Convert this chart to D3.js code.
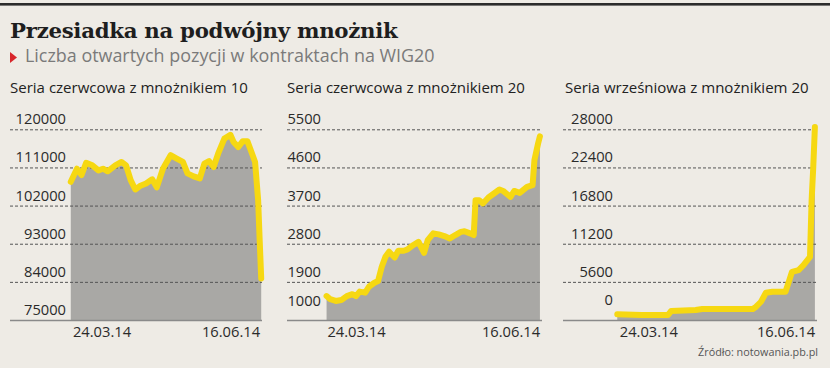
<!DOCTYPE html>
<html><head><meta charset="utf-8">
<script src="https://cdn.jsdelivr.net/npm/d3@7"></script>
<style>html,body{margin:0;padding:0;background:#eeebe5;}</style>
</head><body>
<svg id="c" width="830" height="368"></svg>
<script>
// ---------- DATA ----------
const title = "Przesiadka na podwójny mnożnik";
const subtitle = "Liczba otwartych pozycji w kontraktach na WIG20";
const panelTitles = ["Seria czerwcowa z mnożnikiem 10", "Seria czerwcowa z mnożnikiem 20", "Seria wrześniowa z mnożnikiem 20"];
const source = "Źródło: notowania.pb.pl";

const xTickDates = ["2014-03-24", "2014-06-16"];
const xTickLabels = ["24.03.14", "16.06.14"];

const yTicks1 = [75000, 84000, 93000, 102000, 111000, 120000];
const yTicks2 = [1000, 1900, 2800, 3700, 4600, 5500];
const yTicks3 = [0, 5600, 11200, 16800, 22400, 28000];

const dates1 = ["2014-03-04","2014-03-08","2014-03-11","2014-03-14","2014-03-18","2014-03-22","2014-03-25","2014-03-28",
  "2014-04-02","2014-04-06","2014-04-09","2014-04-12","2014-04-15","2014-04-18","2014-04-22","2014-04-26","2014-04-29",
  "2014-05-03","2014-05-08","2014-05-12","2014-05-16","2014-05-19","2014-05-23","2014-05-27","2014-05-30",
  "2014-06-02","2014-06-05","2014-06-08","2014-06-12","2014-06-16","2014-06-18","2014-06-21","2014-06-24","2014-06-27","2014-06-30",
  "2014-07-02","2014-07-04","2014-07-05","2014-07-06"];
const values1 = [107600,110700,109200,112100,111500,110300,110700,110100,
  111500,112300,111500,108000,105800,106600,107200,108200,106300,
  110700,113900,113100,112300,109600,108900,108400,111900,
  112500,111100,114300,117800,118700,117000,115800,117200,117200,114300,
  112300,103300,93800,84800];

const dates2 = ["2014-03-08","2014-03-10","2014-03-13","2014-03-16","2014-03-19","2014-03-22","2014-03-24","2014-03-26","2014-03-29","2014-03-31",
  "2014-04-03","2014-04-05","2014-04-07","2014-04-09","2014-04-11","2014-04-14","2014-04-16","2014-04-19","2014-04-21","2014-04-24","2014-04-27","2014-04-30",
  "2014-05-02","2014-05-05","2014-05-08","2014-05-11","2014-05-14","2014-05-17","2014-05-20","2014-05-22","2014-05-25","2014-05-27","2014-05-28","2014-05-30",
  "2014-06-01","2014-06-04","2014-06-07","2014-06-10","2014-06-12","2014-06-16","2014-06-18","2014-06-21","2014-06-25","2014-06-28","2014-06-29",
  "2014-07-01","2014-07-02"];
const values2 = [1565,1490,1450,1470,1565,1610,1565,1670,1645,1785,
  1880,1920,2255,2490,2610,2475,2635,2635,2665,2765,2845,2585,
  2885,3045,3020,2980,2925,3005,3080,3095,3045,3005,3825,3825,
  3750,3890,3985,4080,4045,3905,4045,4000,4140,4180,4770,
  5165,5335];

const dates3 = ["2014-03-05","2014-03-20","2014-04-05","2014-04-07","2014-04-22","2014-04-26","2014-05-08","2014-05-27","2014-05-29",
  "2014-06-01","2014-06-04","2014-06-08","2014-06-16","2014-06-18","2014-06-20","2014-06-24","2014-06-27",
  "2014-07-01","2014-07-02","2014-07-03","2014-07-04"];
const values3 = [840,730,730,1320,1470,1610,1610,1610,1950,
  2680,4000,4150,4150,5600,7080,7330,8060,
  9280,17590,22475,28340];

// ---------- LAYOUT ----------
const parse = d3.timeParse("%Y-%m-%d");
const fmtTick = (d, i) => xTickLabels[i];
const FONT = "'Open Sans', 'DejaVu Sans', sans-serif";
const LINE = "#f6d812", AREA = "#a9a8a5", BG = "#eeebe5";
const yTop = 129.3, yBottom = 320;

const panels = [
  {title: panelTitles[0], dates: dates1, values: values1, ticks: yTicks1, grid: [10, 262], labelRight: 66, tickX: [101.5, 230.5], titleX: 10, bottomDy: -6},
  {title: panelTitles[1], dates: dates2, values: values2, ticks: yTicks2, grid: [287, 542], labelRight: 321, tickX: [356, 510.5], titleX: 287, bottomDy: -15},
  {title: panelTitles[2], dates: dates3, values: values3, ticks: yTicks3, grid: [563, 817], labelRight: 613, tickX: [648.3, 785.5], titleX: 565, bottomDy: -16}
];

const svg = d3.select("#c");
svg.append("rect").attr("width", 830).attr("height", 368).attr("fill", BG);
svg.append("rect").attr("x", 0).attr("y", 3).attr("width", 830).attr("height", 2.6).attr("fill", "#2b2b2b");

function fit(sel, width) {
  const w = sel.node().getComputedTextLength();
  const fs = parseFloat(sel.attr("font-size"));
  sel.attr("font-size", fs * width / w);
  return fs * width / w;
}

const t = svg.append("text").attr("x", 10).attr("y", 38).attr("font-family", "'DejaVu Serif', serif")
  .attr("font-weight", "bold").attr("font-size", 22).attr("fill", "#1e1e1e").attr("letter-spacing", -0.3).text(title);
fit(t, 388);

svg.append("path").attr("d", "M10,52 L10,63 L17,57.5 Z").attr("fill", "#d8262b");
const st = svg.append("text").attr("x", 25).attr("y", 62).attr("font-family", FONT)
  .attr("font-size", 16).attr("fill", "#7a7a7a").text(subtitle);
fit(st, 410);

let titleFs = null;
panels.forEach((p, pi) => {
  const g = svg.append("g");
  const x = d3.scaleTime().domain(xTickDates.map(parse)).range(p.tickX);
  const y = d3.scaleLinear().domain([p.ticks[0], p.ticks[p.ticks.length - 1]]).range([yBottom, yTop]);
  const pts = p.dates.map((d, i) => ({d: parse(d), v: p.values[i]}));

  // panel title
  const pt = g.append("text").attr("x", p.titleX).attr("y", 93).attr("font-family", FONT)
    .attr("font-size", 14).attr("fill", "#222").text(p.title);
  if (pi === 0) titleFs = fit(pt, 238); else pt.attr("font-size", titleFs);

  // area
  g.append("path").datum(pts)
    .attr("d", d3.area().x(d => x(d.d)).y0(y(p.ticks[0])).y1(d => y(d.v)))
    .attr("fill", AREA);

  // grid + y labels
  const gw = p.grid[1] - p.grid[0];
  const ax = g.append("g").attr("transform", `translate(${p.grid[0]},0)`)
    .call(d3.axisRight(y).tickValues(p.ticks).tickSize(gw).tickFormat(d3.format("d")));
  ax.select(".domain").remove();
  ax.selectAll(".tick line")
    .attr("stroke", (d, i) => i === 0 ? "#8a8a8a" : "#555")
    .attr("stroke-width", (d, i) => i === 0 ? 1.6 : 1)
    .attr("stroke-dasharray", (d, i) => i === 0 ? null : "3,2");
  ax.selectAll(".tick text")
    .attr("x", p.labelRight - p.grid[0]).attr("text-anchor", "end")
    .attr("dy", (d, i) => i === 0 ? p.bottomDy : -5.5)
    .attr("font-family", FONT).attr("font-size", 14.7).attr("fill", "#2a2a2a");

  // line
  g.append("path").datum(pts)
    .attr("d", d3.line().x(d => x(d.d)).y(d => y(d.v)))
    .attr("fill", "none").attr("stroke", LINE).attr("stroke-width", 6)
    .attr("stroke-linejoin", "round").attr("stroke-linecap", "round");

  // x axis
  const xa = g.append("g").attr("transform", `translate(0,${yBottom})`)
    .call(d3.axisBottom(x).tickValues(xTickDates.map(parse)).tickSize(0).tickPadding(6.5).tickFormat(fmtTick));
  xa.select(".domain").remove();
  xa.selectAll(".tick text").attr("font-family", FONT).attr("font-size", 14.7).attr("fill", "#2a2a2a");
});

const src = svg.append("text").attr("x", 818).attr("y", 356).attr("text-anchor", "end")
  .attr("font-family", FONT).attr("font-size", 11).attr("fill", "#555").text(source);
fit(src, 120);
</script>
</body></html>
